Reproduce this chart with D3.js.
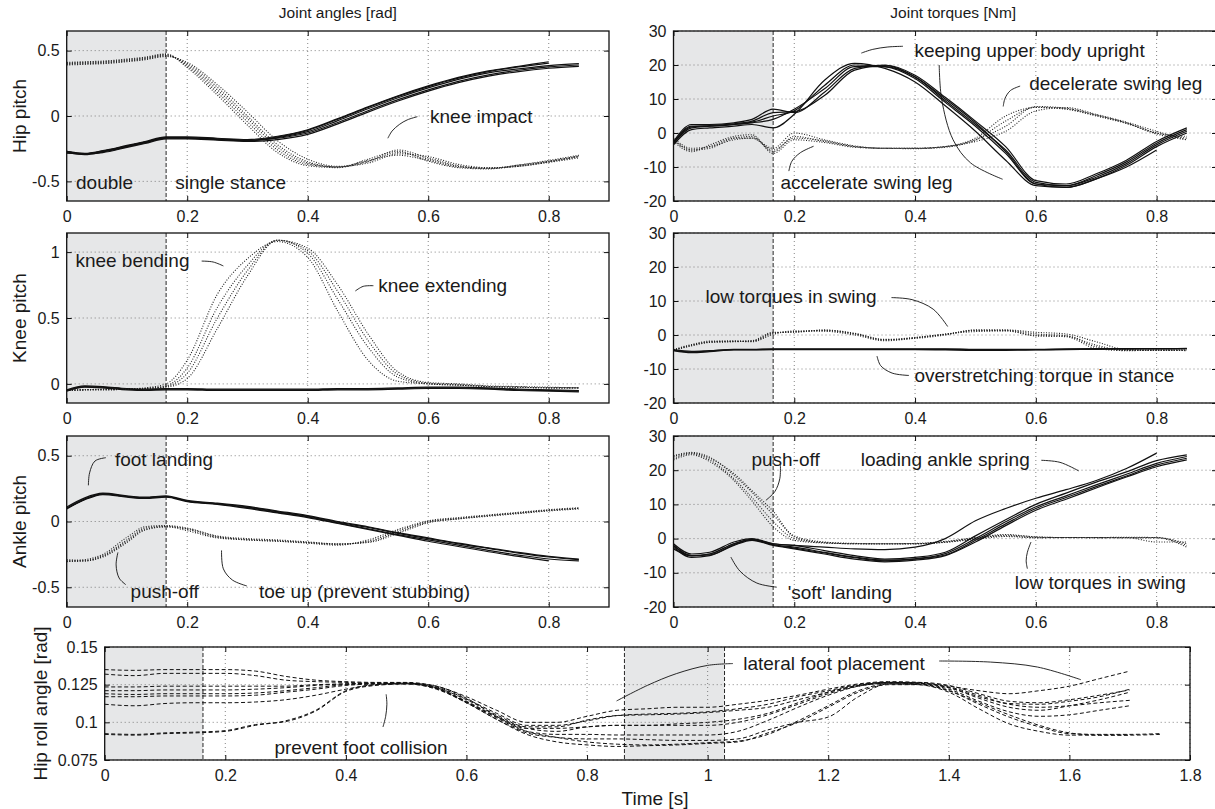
<!DOCTYPE html>
<html>
<head>
<meta charset="utf-8">
<script src="https://cdn.jsdelivr.net/npm/d3@7"></script>
<style>
  body { margin: 0; background: #fff; }
  svg text { font-family: "Liberation Sans", Arial, Helvetica, sans-serif; fill: #1a1a1a; }
  .tick text { font-size: 16px; }
  .grid line { stroke: #666; stroke-width: 0.8; stroke-dasharray: 1,3; }
</style>
</head>
<body>
<svg width="1215" height="809"></svg>
<script>
// ---- data ----
// sample times of the single-step panels [s]
const tGrid = [0, 0.03, 0.06, 0.10, 0.13, 0.165, 0.20, 0.25, 0.30, 0.35, 0.40, 0.45, 0.50, 0.55, 0.60, 0.65, 0.70, 0.75, 0.80, 0.85];
const tTicks = [0, 0.2, 0.4, 0.6, 0.8];

// hip pitch angle [rad]
const hipAngStance = [
  [-0.27, -0.29, -0.27, -0.23, -0.20, -0.165, -0.165, -0.175, -0.185, -0.165, -0.12, -0.035, 0.055, 0.14, 0.215, 0.28, 0.33, 0.36, 0.385, 0.40],
  [-0.28, -0.295, -0.275, -0.235, -0.205, -0.17, -0.17, -0.18, -0.19, -0.17, -0.13, -0.05, 0.04, 0.125, 0.20, 0.265, 0.315, 0.35, 0.375, 0.39],
  [-0.27, -0.285, -0.265, -0.225, -0.195, -0.16, -0.16, -0.17, -0.18, -0.155, -0.105, -0.02, 0.07, 0.155, 0.23, 0.295, 0.345, 0.38, 0.415],
  [-0.285, -0.29, -0.28, -0.24, -0.21, -0.175, -0.175, -0.185, -0.195, -0.18, -0.14, -0.06, 0.03, 0.115, 0.19, 0.255, 0.305, 0.34, 0.365, 0.38],
  [-0.275, -0.29, -0.27, -0.23, -0.20, -0.165, -0.168, -0.178, -0.188, -0.16, -0.11, -0.025, 0.065, 0.15, 0.225, 0.29, 0.34, 0.375, 0.405]
];
const hipAngSwing = [
  [0.39, 0.395, 0.40, 0.415, 0.43, 0.455, 0.41, 0.24, 0.03, -0.19, -0.33, -0.385, -0.36, -0.29, -0.31, -0.37, -0.395, -0.385, -0.355, -0.32],
  [0.40, 0.405, 0.41, 0.425, 0.44, 0.465, 0.39, 0.20, -0.02, -0.24, -0.36, -0.39, -0.345, -0.28, -0.33, -0.385, -0.40, -0.38, -0.35, -0.31],
  [0.41, 0.415, 0.42, 0.435, 0.45, 0.475, 0.37, 0.16, -0.07, -0.28, -0.38, -0.395, -0.33, -0.27, -0.345, -0.395, -0.405, -0.375, -0.34, -0.30],
  [0.395, 0.40, 0.405, 0.42, 0.435, 0.46, 0.40, 0.22, 0.0, -0.22, -0.35, -0.39, -0.35, -0.26, -0.32, -0.38, -0.40, -0.385, -0.35, -0.31],
  [0.405, 0.41, 0.415, 0.43, 0.445, 0.47, 0.38, 0.18, -0.045, -0.26, -0.37, -0.39, -0.34, -0.30, -0.34, -0.39, -0.40, -0.375, -0.345, -0.305]
];

// knee pitch angle [rad]
const kneeAngStance = [
  [-0.05, -0.02, -0.025, -0.04, -0.045, -0.04, -0.04, -0.045, -0.045, -0.045, -0.045, -0.04, -0.04, -0.035, -0.03, -0.03, -0.035, -0.045, -0.05, -0.055],
  [-0.045, -0.015, -0.02, -0.035, -0.04, -0.035, -0.035, -0.04, -0.04, -0.04, -0.04, -0.035, -0.035, -0.03, -0.025, -0.025, -0.03, -0.04, -0.045, -0.05],
  [-0.055, -0.025, -0.03, -0.045, -0.05, -0.045, -0.045, -0.05, -0.05, -0.05, -0.05, -0.045, -0.045, -0.04, -0.035, -0.035, -0.04, -0.05, -0.055, -0.06]
];
const kneeAngSwing = [
  [-0.05, -0.045, -0.045, -0.04, -0.03, 0.0, 0.18, 0.68, 0.95, 1.08, 0.96, 0.55, 0.18, 0.02, 0.0, -0.01, -0.02, -0.025, -0.03, -0.03],
  [-0.05, -0.045, -0.045, -0.04, -0.035, -0.025, 0.04, 0.42, 0.82, 1.09, 1.03, 0.75, 0.38, 0.09, 0.01, 0.0, -0.015, -0.02, -0.025, -0.03],
  [-0.05, -0.045, -0.045, -0.04, -0.035, -0.015, 0.12, 0.58, 0.90, 1.09, 0.99, 0.64, 0.28, 0.05, 0.0, -0.01, -0.02, -0.025, -0.03, -0.03],
  [-0.05, -0.045, -0.04, -0.04, -0.035, -0.02, 0.08, 0.50, 0.86, 1.09, 1.01, 0.70, 0.33, 0.07, 0.005, -0.005, -0.02, -0.025, -0.03, -0.03]
];

// ankle pitch angle [rad]
const ankleAngStance = [
  [0.10, 0.17, 0.21, 0.19, 0.18, 0.19, 0.155, 0.135, 0.11, 0.075, 0.04, -0.005, -0.045, -0.09, -0.13, -0.17, -0.205, -0.24, -0.27, -0.29],
  [0.11, 0.18, 0.215, 0.195, 0.185, 0.195, 0.16, 0.14, 0.115, 0.08, 0.045, 0.0, -0.04, -0.085, -0.125, -0.165, -0.20, -0.235, -0.265, -0.285],
  [0.095, 0.165, 0.205, 0.185, 0.175, 0.185, 0.15, 0.13, 0.10, 0.065, 0.03, -0.015, -0.06, -0.105, -0.15, -0.19, -0.23, -0.265, -0.30],
  [0.10, 0.17, 0.21, 0.19, 0.18, 0.19, 0.155, 0.135, 0.105, 0.07, 0.035, -0.01, -0.055, -0.10, -0.14, -0.18, -0.22, -0.255, -0.285, -0.30]
];
const ankleAngSwing = [
  [-0.30, -0.29, -0.25, -0.12, -0.04, -0.03, -0.05, -0.11, -0.13, -0.14, -0.155, -0.17, -0.16, -0.09, -0.01, 0.02, 0.045, 0.065, 0.085, 0.10],
  [-0.30, -0.30, -0.27, -0.16, -0.065, -0.04, -0.07, -0.125, -0.14, -0.15, -0.165, -0.18, -0.14, -0.06, 0.005, 0.03, 0.05, 0.07, 0.09, 0.105],
  [-0.29, -0.295, -0.26, -0.14, -0.05, -0.035, -0.06, -0.12, -0.135, -0.145, -0.16, -0.175, -0.15, -0.07, 0.0, 0.025, 0.045, 0.065, 0.085, 0.10],
  [-0.305, -0.30, -0.265, -0.15, -0.06, -0.04, -0.055, -0.115, -0.14, -0.15, -0.16, -0.17, -0.155, -0.08, -0.005, 0.02, 0.04, 0.06, 0.08, 0.095]
];

// hip pitch torque [Nm]
const hipTrqStance = [
  [-3, 1.5, 2, 2.5, 3.2, 5, 6.5, 14, 20, 19.5, 16, 9, 2, -6, -15, -15.5, -12.5, -8.5, -3, 1],
  [-2.5, 2.5, 2.5, 3, 4, 7, 6, 12, 19, 20, 17, 10.5, 3.5, -4, -14, -15, -12, -8, -2.5, 1.5],
  [-3.5, 1, 1.5, 2, 2.5, 1.5, 5.5, 15.5, 20.5, 19, 15, 8, 0.5, -8, -15.5, -16, -13.5, -9.5, -4, 0],
  [-3, 2, 2, 2.5, 3, 4, 7, 13, 19.5, 19.5, 16.5, 9.5, 2.5, -5, -14.5, -15.5, -13, -9, -3.5, 0.5],
  [-2.8, 1.8, 2.2, 2.7, 3.5, 6, 6.3, 11, 18.5, 19.8, 16.5, 10, 3, -5.5, -15, -16, -13.5, -10, -5]
];
const hipTrqSwing = [
  [-2, -5, -4.5, -1.5, -1, -5.5, -1, -2.5, -4, -4.5, -4.5, -4, -1.5, 5, 7.5, 7, 5, 2.8, 0, -1.5],
  [-1.5, -4.5, -4, -2, -1.5, -4.5, 0, -2, -3.8, -4.5, -4.5, -4, -2, 2, 7.8, 7.3, 5.3, 3, 0, -1],
  [-2.5, -5.5, -3.5, -1, -0.5, -6, -2, -2.8, -4.2, -4.5, -4.5, -4, -2.5, 0.5, 6.5, 7.5, 5.5, 3.2, 0.5, -2],
  [-2, -5, -4, -1.5, -1.5, -5, -1.5, -2.3, -4, -4.5, -4.6, -4.2, -2, 3.5, 7.6, 7.1, 5.2, 2.9, -0.3, -2]
];

// knee pitch torque [Nm]
const kneeTrqStance = [
  [-4.5, -5, -4.7, -4.3, -4.3, -4.2, -4.2, -4.2, -4.2, -4.2, -4.2, -4.2, -4.3, -4.3, -4.3, -4.2, -4.1, -4.1, -4.0, -4.0],
  [-4.3, -4.8, -4.6, -4.2, -4.2, -4.1, -4.1, -4.1, -4.1, -4.1, -4.1, -4.1, -4.2, -4.2, -4.2, -4.1, -4.0, -4.0, -4.0, -3.9],
  [-4.6, -5.2, -4.9, -4.4, -4.4, -4.3, -4.3, -4.3, -4.3, -4.3, -4.3, -4.4, -4.5, -4.5, -4.4, -4.3, -4.2, -4.1, -4.1, -4.0]
];
const kneeTrqSwing = [
  [-4.5, -3, -2, -1.8, -1.8, 0.5, 1, 1.3, 0.3, -1.5, -0.8, 0.2, 1.3, 1.3, -0.1, -0.3, -3.5, -4.5, -4.5, -4.5],
  [-4.5, -3.2, -2.2, -2, -1.7, 0.8, 0.8, 1.5, 0.5, -1.3, -1, 0, 1.5, 1.5, 0.8, 0.3, -2, -4.3, -4.5, -4.5],
  [-4.3, -2.8, -1.8, -1.8, -2, 0.2, 1.2, 1.1, 0, -1.7, -0.9, 0.3, 1.0, 1.2, -0.3, -0.5, -4, -4.6, -4.5, -4.4],
  [-4.5, -3, -2.1, -1.9, -1.8, 0.6, 0.9, 1.4, 0.4, -1.4, -0.7, 0.2, 1.4, 1.4, 0.3, -0.2, -3, -4.5, -4.5, -4.6]
];

// ankle pitch torque [Nm]
const ankleTrqStance = [
  [-2, -5, -4.5, -1.5, -0.3, -1.8, -2.5, -4, -5.4, -6.3, -5.9, -4.4, 0, 4.9, 9.3, 12.5, 15.7, 18.8, 22, 24],
  [-2.5, -5.5, -5, -2, -0.5, -2, -3, -4.5, -6, -6.8, -6.3, -5, -1, 3.8, 8.3, 11.5, 14.8, 18, 21, 23],
  [-1.5, -4.5, -4, -1, 0, -1.5, -2, -3.5, -5, -6, -5.5, -4, 0.8, 5.5, 10, 13.3, 16.5, 19.5, 22.8, 24.5],
  [-3, -5, -4.8, -1.8, -0.3, -1.8, -2.8, -4.2, -5.6, -6.5, -6, -4.8, -0.5, 4.3, 8.8, 12, 15.2, 18.3, 21.5, 23.5],
  [-2, -5, -4.5, -1.5, -0.3, -1.5, -2, -2.5, -3, -3.2, -2.5, 0, 5.2, 8.8, 11.8, 14.3, 17, 20.5, 25]
];
const ankleTrqSwing = [
  [24, 25, 23.5, 19, 14, 8, 0.5, -1.2, -1.5, -1.5, -1.5, -1, 0, 1, 0.5, 0.3, 0.3, 0.3, 0.3, -2],
  [23.5, 24.8, 23, 17.5, 12, 5, 0, -1.2, -1.5, -1.6, -1.5, -1, 0.2, 0.8, 0.2, 0.3, 0.2, 0.3, -1, -1],
  [23, 24.5, 22.5, 17, 11, 3.5, -0.5, -1.3, -1.5, -1.5, -1.4, -0.8, 0.3, 1.2, 0.5, 0.3, 0.3, 0.2, 0.2, -2.5],
  [24.2, 25.2, 23.8, 18.5, 13.5, 7, 0.8, -1, -1.4, -1.5, -1.5, -1.1, -0.2, 0.6, 0.3, 0.3, 0.3, 0.4, 0.3, -1.5]
];

// hip roll angle over two steps [rad]
const tRoll = [0, 0.05, 0.1, 0.15, 0.2, 0.25, 0.3, 0.35, 0.4, 0.45, 0.5, 0.55, 0.6, 0.65, 0.7, 0.75, 0.8, 0.85,
               0.9, 0.95, 1.0, 1.05, 1.1, 1.15, 1.2, 1.25, 1.3, 1.35, 1.4, 1.45, 1.5, 1.55, 1.6, 1.65, 1.7, 1.75];
const rollTicks = [0, 0.2, 0.4, 0.6, 0.8, 1, 1.2, 1.4, 1.6, 1.8];
const hipRoll = [
  [0.135, 0.1345, 0.135, 0.135, 0.135, 0.134, 0.1305, 0.128, 0.127, 0.1265, 0.1265, 0.124, 0.117, 0.108, 0.100, 0.100, 0.104, 0.108, 0.109, 0.110, 0.110, 0.112, 0.1146, 0.118, 0.122, 0.1255, 0.127, 0.1265, 0.124, 0.121, 0.119, 0.121, 0.124, 0.129, 0.134],
  [0.132, 0.131, 0.1325, 0.1325, 0.1325, 0.131, 0.128, 0.127, 0.1265, 0.126, 0.126, 0.1235, 0.1155, 0.106, 0.098, 0.098, 0.101, 0.1045, 0.1055, 0.106, 0.107, 0.109, 0.112, 0.117, 0.121, 0.125, 0.1265, 0.1265, 0.1245, 0.119, 0.114, 0.113, 0.115, 0.118, 0.1215],
  [0.1235, 0.1235, 0.124, 0.124, 0.124, 0.124, 0.124, 0.125, 0.1255, 0.126, 0.126, 0.123, 0.114, 0.104, 0.096, 0.094, 0.097, 0.098, 0.098, 0.099, 0.100, 0.102, 0.106, 0.113, 0.120, 0.1245, 0.1265, 0.126, 0.123, 0.116, 0.110, 0.108, 0.111, 0.115, 0.120],
  [0.121, 0.121, 0.1215, 0.1215, 0.1215, 0.122, 0.123, 0.1245, 0.1255, 0.126, 0.126, 0.1225, 0.1135, 0.103, 0.094, 0.092, 0.092, 0.0916, 0.0916, 0.0916, 0.0916, 0.094, 0.1013, 0.110, 0.118, 0.124, 0.126, 0.1255, 0.121, 0.112, 0.1035, 0.097, 0.0925, 0.092, 0.092, 0.0925],
  [0.119, 0.1185, 0.119, 0.119, 0.119, 0.1195, 0.121, 0.123, 0.125, 0.1255, 0.1255, 0.122, 0.113, 0.102, 0.093, 0.090, 0.089, 0.089, 0.0885, 0.088, 0.088, 0.089, 0.095, 0.100, 0.1035, 0.117, 0.1255, 0.125, 0.120, 0.109, 0.099, 0.094, 0.0915, 0.0915, 0.0915],
  [0.117, 0.117, 0.1175, 0.1175, 0.1175, 0.118, 0.120, 0.122, 0.1245, 0.1255, 0.126, 0.1225, 0.1135, 0.1035, 0.096, 0.096, 0.097, 0.098, 0.098, 0.098, 0.098, 0.100, 0.105, 0.112, 0.119, 0.124, 0.126, 0.126, 0.123, 0.117, 0.112, 0.110, 0.111, 0.113, 0.1146],
  [0.112, 0.111, 0.1125, 0.113, 0.113, 0.1135, 0.115, 0.118, 0.122, 0.125, 0.1255, 0.1225, 0.113, 0.102, 0.092, 0.087, 0.085, 0.084, 0.0845, 0.085, 0.086, 0.087, 0.093, 0.100, 0.110, 0.120, 0.125, 0.125, 0.121, 0.113, 0.105, 0.098, 0.093, 0.0915, 0.0915, 0.092],
  [0.092, 0.0915, 0.0925, 0.093, 0.094, 0.098, 0.101, 0.108, 0.121, 0.125, 0.126, 0.124, 0.116, 0.104, 0.094, 0.090, 0.087, 0.0855, 0.085, 0.0855, 0.0865, 0.0875, 0.092, 0.101, 0.111, 0.121, 0.1255, 0.1255, 0.122, 0.114, 0.107, 0.104, 0.105, 0.108, 0.111],
  [0.0925, 0.092, 0.093, 0.0935, 0.0945, 0.0985, 0.1005, 0.1075, 0.1205, 0.1245, 0.1255, 0.123, 0.115, 0.105, 0.097, 0.097, 0.1015, 0.1045, 0.105, 0.1055, 0.1065, 0.108, 0.110, 0.115, 0.120, 0.1245, 0.1265, 0.126, 0.1235, 0.118, 0.1125, 0.112, 0.114, 0.117, 0.122]
];

// double-support phases [s]
const stepShade = [[0, 0.165]];
const rollShade = [[0, 0.163], [0.862, 1.028]];

// annotations: text start [t, value] and leader line points
const hipAngNotes = [
  { text: 'double', at: [0.0155, -0.51] },
  { text: 'single stance', at: [0.18, -0.51] },
  { text: 'knee impact', at: [0.603, 0.0], lead: [[0.533, -0.17], [0.54, -0.115], [0.552, -0.065], [0.565, -0.03], [0.582, -0.005]] }
];
const kneeAngNotes = [
  { text: 'knee bending', at: [0.0144, 0.94], lead: [[0.224, 0.932], [0.243, 0.925], [0.26, 0.895]] },
  { text: 'knee extending', at: [0.517, 0.747], lead: [[0.509, 0.745], [0.492, 0.74], [0.479, 0.705]] }
];
const ankleAngNotes = [
  { text: 'foot landing', at: [0.08, 0.474], lead: [[0.065, 0.485], [0.047, 0.46], [0.038, 0.37], [0.036, 0.275]] },
  { text: 'push-off', at: [0.106, -0.528], lead: [[0.098, -0.48], [0.087, -0.43], [0.082, -0.33], [0.085, -0.235]] },
  { text: 'toe up (prevent stubbing)', at: [0.319, -0.528], lead: [[0.299, -0.49], [0.275, -0.445], [0.26, -0.36], [0.257, -0.22]] }
];
const hipTrqNotes = [
  { text: 'keeping upper body upright', at: [0.399, 24.3], lead: [[0.311, 23.5], [0.33, 24.6], [0.355, 25.3], [0.38, 25.5]] },
  { lead: [[0.44, 20], [0.444, 10], [0.463, -2], [0.492, -8.8], [0.545, -13.6]] },
  { text: 'decelerate swing leg', at: [0.589, 14.6], lead: [[0.574, 13.8], [0.558, 12.5], [0.549, 10.2], [0.546, 7.8]] },
  { text: 'accelerate swing leg', at: [0.177, -14.6], lead: [[0.191, -11.2], [0.196, -8.3], [0.21, -5.8], [0.232, -3.9]] }
];
const kneeTrqNotes = [
  { text: 'low torques in swing', at: [0.053, 11.5], lead: [[0.361, 11], [0.395, 10.4], [0.43, 7.6], [0.454, 2.5]] },
  { text: 'overstretching torque in stance', at: [0.399, -12], lead: [[0.337, -6.2], [0.343, -9], [0.362, -11.2], [0.39, -11.9]] }
];
const ankleTrqNotes = [
  { text: 'push-off', at: [0.129, 23.2], lead: [[0.177, 21.5], [0.176, 17.5], [0.168, 13.8], [0.153, 11.2]] },
  { text: 'loading ankle spring', at: [0.31, 23.2], lead: [[0.609, 22.9], [0.64, 22.3], [0.671, 19.8]] },
  { text: "'soft' landing", at: [0.189, -15.6], lead: [[0.095, -5.4], [0.11, -9.5], [0.138, -13], [0.171, -14.2]] },
  { text: 'low torques in swing', at: [0.565, -12.9], lead: [[0.592, -1], [0.586, -4], [0.584, -6.5], [0.586, -8.8]] }
];
const rollNotes = [
  { text: 'prevent foot collision', at: [0.2815, 0.0832], lead: [[0.4615, 0.0969], [0.466, 0.104], [0.468, 0.112], [0.4668, 0.1186]] },
  { text: 'lateral foot placement', at: [1.059, 0.139], lead: [[0.849, 0.1142], [0.9, 0.1245], [0.948, 0.1323], [1.0, 0.1378], [1.042, 0.139]] },
  { lead: [[1.384, 0.1407], [1.469, 0.14], [1.547, 0.1367], [1.619, 0.1283]] }
];

// ---- layout ----
const colL = [66.7, 609], colR = [673.5, 1217];
const rowY = [[31, 201], [233, 403], [436, 607]];
const angDom = [-0.65, 0.65], kneeDom = [-0.145, 1.145], trqDom = [-20, 30];
const trqTicks = [-20, -10, 0, 10, 20, 30];

const panels = [
  { c: colL, r: rowY[0], yDom: angDom, yTicks: [-0.5, 0, 0.5], label: 'Hip pitch', solid: hipAngStance, dotted: hipAngSwing, notes: hipAngNotes },
  { c: colL, r: rowY[1], yDom: kneeDom, yTicks: [0, 0.5, 1], label: 'Knee pitch', solid: kneeAngStance, dotted: kneeAngSwing, notes: kneeAngNotes },
  { c: colL, r: rowY[2], yDom: angDom, yTicks: [-0.5, 0, 0.5], label: 'Ankle pitch', solid: ankleAngStance, dotted: ankleAngSwing, notes: ankleAngNotes },
  { c: colR, r: rowY[0], yDom: trqDom, yTicks: trqTicks, solid: hipTrqStance, dotted: hipTrqSwing, notes: hipTrqNotes },
  { c: colR, r: rowY[1], yDom: trqDom, yTicks: trqTicks, solid: kneeTrqStance, dotted: kneeTrqSwing, notes: kneeTrqNotes },
  { c: colR, r: rowY[2], yDom: trqDom, yTicks: trqTicks, solid: ankleTrqStance, dotted: ankleTrqSwing, notes: ankleTrqNotes }
].map(p => Object.assign(p, { xDom: [0, 0.9], xTicks: tTicks, time: tGrid, shade: stepShade, labelX: 19 }));

panels.push({ c: [104.7, 1190], r: [647, 760], xDom: [0, 1.8], xTicks: rollTicks, yDom: [0.075, 0.15],
  yTicks: [0.075, 0.1, 0.125, 0.15], label: 'Hip roll angle [rad]', labelX: 40, dashed: hipRoll, time: tRoll,
  notes: rollNotes, shade: rollShade });

const svg = d3.select('svg');
const fmt = d => String(d);
const smooth = d3.line().curve(d3.curveMonotoneX);
const leader = d3.line().curve(d3.curveCatmullRom.alpha(0.5));

panels.forEach((p, i) => {
  const x = d3.scaleLinear().domain(p.xDom).range(p.c);
  const y = d3.scaleLinear().domain(p.yDom).range([p.r[1], p.r[0]]);
  const w = p.c[1] - p.c[0], h = p.r[1] - p.r[0];
  const g = svg.append('g');

  g.append('clipPath').attr('id', 'clip' + i)
    .append('rect').attr('x', p.c[0]).attr('y', p.r[0]).attr('width', w).attr('height', h);

  // double support shading + phase boundaries
  p.shade.forEach(s => {
    g.append('rect').attr('x', x(s[0])).attr('y', p.r[0]).attr('width', x(s[1]) - x(s[0])).attr('height', h)
      .attr('fill', '#e6e7e8');
  });

  // grid
  g.append('g').attr('class', 'grid').selectAll('line').data(p.xTicks.slice(1)).join('line')
    .attr('x1', d => x(d)).attr('x2', d => x(d)).attr('y1', p.r[0]).attr('y2', p.r[1]);
  g.append('g').attr('class', 'grid').selectAll('line').data(p.yTicks).join('line')
    .attr('x1', p.c[0]).attr('x2', p.c[1]).attr('y1', d => y(d)).attr('y2', d => y(d));

  const bounds = p.shade.flat().filter(v => v > 0);
  g.selectAll('line.phase').data(bounds).join('line').attr('class', 'phase')
    .attr('x1', d => x(d)).attr('x2', d => x(d)).attr('y1', p.r[0]).attr('y2', p.r[1])
    .attr('stroke', '#111').attr('stroke-width', 0.9).attr('stroke-dasharray', '4,2');

  // trials
  const data = g.append('g').attr('clip-path', `url(#clip${i})`);
  const pts = arr => arr.map((v, k) => [x(p.time[k]), y(v)]);
  if (p.dotted) data.selectAll('path.sw').data(p.dotted).join('path').attr('class', 'sw')
    .attr('d', a => smooth(pts(a))).attr('fill', 'none').attr('stroke', '#222')
    .attr('stroke-width', 1.1).attr('stroke-dasharray', '1,1.6');
  if (p.solid) data.selectAll('path.st').data(p.solid).join('path').attr('class', 'st')
    .attr('d', a => smooth(pts(a))).attr('fill', 'none').attr('stroke', '#111').attr('stroke-width', 1.2);
  if (p.dashed) data.selectAll('path.ds').data(p.dashed).join('path').attr('class', 'ds')
    .attr('d', a => smooth(pts(a))).attr('fill', 'none').attr('stroke', '#111')
    .attr('stroke-width', 1).attr('stroke-dasharray', '4,2.5');

  // annotations
  p.notes.forEach(n => {
    if (n.lead) g.append('path').attr('d', leader(n.lead.map(q => [x(q[0]), y(q[1])])))
      .attr('fill', 'none').attr('stroke', '#111').attr('stroke-width', 0.9);
    if (n.text) g.append('text').attr('x', x(n.at[0])).attr('y', y(n.at[1])).attr('dy', '0.35em')
      .style('font-size', '19px').text(n.text);
  });

  // box and axes (ticks pointing inward on all sides)
  g.append('rect').attr('x', p.c[0]).attr('y', p.r[0]).attr('width', w).attr('height', h)
    .attr('fill', 'none').attr('stroke', '#111').attr('stroke-width', 1.3);
  const clean = a => { a.select('.domain').remove(); a.selectAll('.tick line').attr('stroke', '#111'); };
  g.append('g').attr('transform', `translate(0,${p.r[1]})`)
    .call(d3.axisBottom(x).tickValues(p.xTicks).tickSize(-5).tickPadding(9.5).tickFormat(fmt)).call(clean);
  g.append('g').attr('transform', `translate(0,${p.r[0]})`)
    .call(d3.axisTop(x).tickValues(p.xTicks).tickSize(-5).tickFormat('')).call(clean);
  g.append('g').attr('transform', `translate(${p.c[0]},0)`)
    .call(d3.axisLeft(y).tickValues(p.yTicks).tickSize(-5).tickPadding(7).tickFormat(fmt)).call(clean);
  g.append('g').attr('transform', `translate(${p.c[1]},0)`)
    .call(d3.axisRight(y).tickValues(p.yTicks).tickSize(-5).tickFormat('')).call(clean);
  g.selectAll('.tick text').attr('fill', '#1a1a1a');

  if (p.label) g.append('text').attr('transform', `translate(${p.labelX},${(p.r[0] + p.r[1]) / 2}) rotate(-90)`)
    .attr('text-anchor', 'middle').attr('dy', '0.35em').style('font-size', '19px').text(p.label);
});

// column titles and time label
svg.append('text').attr('x', (colL[0] + colL[1]) / 2).attr('y', 18).attr('text-anchor', 'middle')
  .style('font-size', '15.5px').text('Joint angles [rad]');
svg.append('text').attr('x', (colR[0] + colR[1]) / 2 + 8).attr('y', 18).attr('text-anchor', 'middle')
  .style('font-size', '15.5px').text('Joint torques [Nm]');
svg.append('text').attr('x', 655).attr('y', 805).attr('text-anchor', 'middle')
  .style('font-size', '19px').text('Time [s]');
</script>
</body>
</html>
